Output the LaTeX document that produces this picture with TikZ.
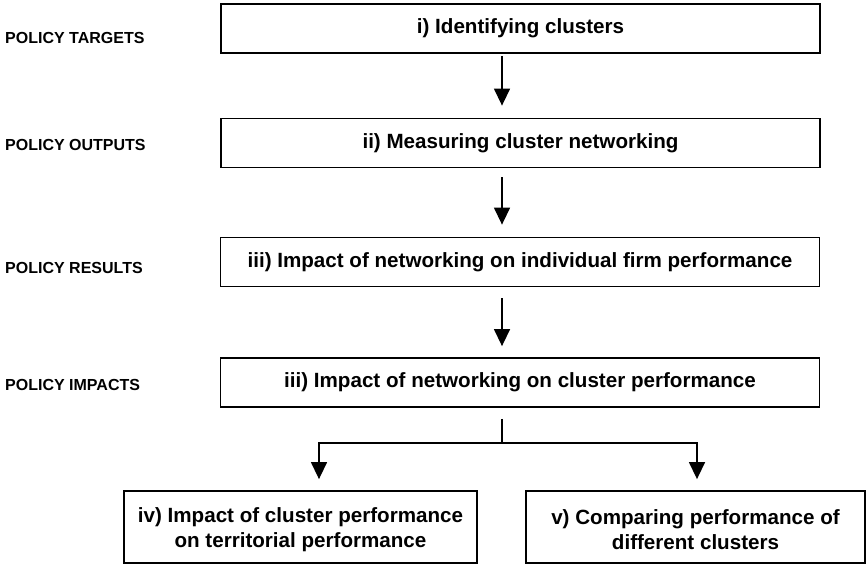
\documentclass[tikz,border=0pt]{standalone}
\usepackage{fontspec}
\setmainfont{Liberation Sans}
\usetikzlibrary{arrows.meta}

\begin{document}
\begin{tikzpicture}[x=1pt, y=-1pt,
        every node/.style={font=\bfseries},
        stagebox/.style={draw, line width=1.8pt, minimum width=599pt, minimum height=49pt,
            inner sep=0pt, font=\fontsize{20.6}{25}\selectfont\bfseries},
        leafbox/.style={stagebox, minimum height=72pt, align=center, text height=45pt},
        levellabel/.style={anchor=west, inner sep=0pt, font=\fontsize{16}{18}\selectfont\bfseries},
        flow/.style={line width=1.4pt},
        arr/.style={flow, -{Triangle[width=16pt, length=17pt]}}]
    \useasboundingbox[fill=white] (0,0) rectangle (867,565);

    % policy levels on the left
    \node[levellabel] (targets) at (5,38) {POLICY TARGETS};
    \node[levellabel] (outputs) at (5,145) {POLICY OUTPUTS};
    \node[levellabel] (results) at (5,268) {POLICY RESULTS};
    \node[levellabel] (impacts) at (5,385) {POLICY IMPACTS};

    % stages
    \node[stagebox] (ident) at (520.5,28.5) {i) Identifying clusters};
    \node[stagebox] (measure) at (520.5,143) {ii) Measuring cluster networking};
    \node[stagebox] (firm) at (520,262) {iii) Impact of networking on individual firm performance};
    \node[stagebox] (cluster) at (520,382.5) {iii) Impact of networking on cluster performance};
    \node[leafbox, minimum width=353pt] (territory) at (300.5,527)
        {iv) Impact of cluster performance\\on territorial performance};
    \node[leafbox, minimum width=339pt] (compare) at (695.5,527)
        {v) Comparing performance of\\different clusters};

    \coordinate (spine) at (502,0);
    \coordinate (fork) at (502,443);
    \coordinate (ldrop) at (319,443);
    \coordinate (rdrop) at (697,443);

    \draw[arr, shorten <=2pt, shorten >=12pt] (ident.south -| spine) -- (measure.north -| spine);
    \draw[arr, shorten <=9pt, shorten >=12pt] (measure.south -| spine) -- (firm.north -| spine);
    \draw[arr, shorten <=11pt, shorten >=11pt] (firm.south -| spine) -- (cluster.north -| spine);

    % split towards the two last stages
    \draw[flow, shorten <=11pt] (cluster.south -| spine) -- (fork);
    \draw[arr, shorten >=11pt] (fork) -- (ldrop) -- (ldrop |- territory.north);
    \draw[arr, shorten >=11pt] (fork) -- (rdrop) -- (rdrop |- compare.north);
\end{tikzpicture}
\end{document}
